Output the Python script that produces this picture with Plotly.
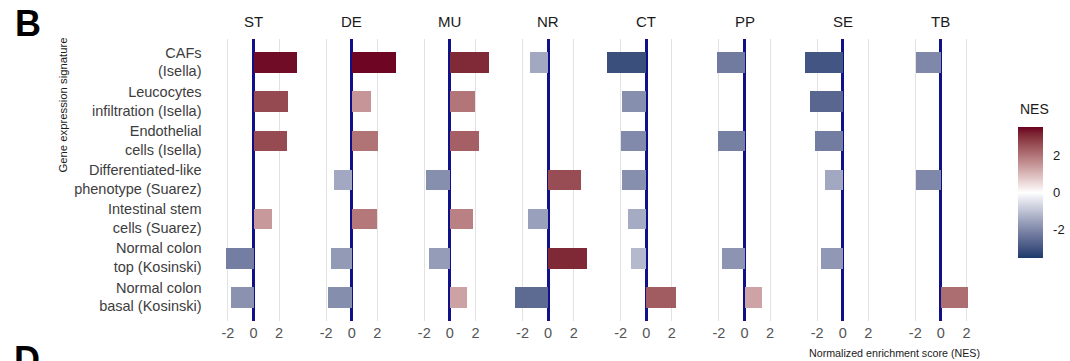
import plotly.graph_objects as go

# Gene expression signatures (rows, top to bottom)
signatures = [
    "CAFs<br>(Isella)",
    "Leucocytes<br>infiltration (Isella)",
    "Endothelial<br>cells (Isella)",
    "Differentiated-like<br>phenotype (Suarez)",
    "Intestinal stem<br>cells (Suarez)",
    "Normal colon<br>top (Kosinski)",
    "Normal colon<br>basal (Kosinski)",
]

# Facets (columns)
groups = ["ST", "DE", "MU", "NR", "CT", "PP", "SE", "TB"]

# NES per facet, one value per signature (None = not shown)
nes_st = [3.38, 2.62, 2.60, None, 1.43, -2.18, -1.82]
nes_de = [3.45, 1.49, 2.00, -1.43, 1.92, -1.68, -1.89]
nes_mu = [3.06, 1.97, 2.29, -1.87, 1.79, -1.64, 1.30]
nes_nr = [-1.44, None, None, 2.56, -1.57, 3.08, -2.54]
nes_ct = [-3.08, -1.88, -1.96, -1.88, -1.39, -1.15, 2.35]
nes_pp = [-2.22, None, -2.14, None, None, -1.78, 1.29]
nes_se = [-2.95, -2.61, -2.19, -1.44, None, -1.71, None]
nes_tb = [-1.99, None, None, -1.99, None, None, 2.07]

nes_by_group = [nes_st, nes_de, nes_mu, nes_nr, nes_ct, nes_pp, nes_se, nes_tb]

x_tickvals = [-2, 0, 2]
x_ticktext = ["-2", "0", "2"]
cbar_tickvals = [-2, 0, 2]
cbar_ticktext = ["-2", "0", "2"]


# ---- diverging colour scale (low / white / high, blended in Lab space) ----
def _hex_to_rgb(h):
    h = h.lstrip("#")
    return [int(h[i:i + 2], 16) / 255 for i in (0, 2, 4)]


def _to_lin(c):
    return c / 12.92 if c <= 0.04045 else ((c + 0.055) / 1.055) ** 2.4


def _from_lin(c):
    v = 12.92 * c if c <= 0.0031308 else 1.055 * c ** (1 / 2.4) - 0.055
    return min(max(v, 0), 1)


def _rgb_to_lab(rgb):
    r, g, b = [_to_lin(c) for c in rgb]
    x = (0.4124 * r + 0.3576 * g + 0.1805 * b) / 0.95047
    y = 0.2126 * r + 0.7152 * g + 0.0722 * b
    z = (0.0193 * r + 0.1192 * g + 0.9505 * b) / 1.08883

    def f(t):
        return t ** (1 / 3) if t > 0.008856 else 7.787 * t + 16 / 116

    fx, fy, fz = f(x), f(y), f(z)
    return [116 * fy - 16, 500 * (fx - fy), 200 * (fy - fz)]


def _lab_to_rgb(lab):
    L, a, bb = lab
    fy = (L + 16) / 116
    fx = fy + a / 500
    fz = fy - bb / 200

    def finv(t):
        return t ** 3 if t ** 3 > 0.008856 else (t - 16 / 116) / 7.787

    x, y, z = finv(fx) * 0.95047, finv(fy), finv(fz) * 1.08883
    r = 3.2406 * x - 1.5372 * y - 0.4986 * z
    g = -0.9689 * x + 1.8758 * y + 0.0415 * z
    b = 0.0557 * x - 0.2040 * y + 1.0570 * z
    return "rgb(%d,%d,%d)" % tuple(round(_from_lin(c) * 255) for c in (r, g, b))


def diverging_scale(low, mid, high, n=10):
    lo, mi, hi = (_rgb_to_lab(_hex_to_rgb(c)) for c in (low, mid, high))
    stops = []
    for i in range(n + 1):
        t = i / n
        lab = [lo[k] + (mi[k] - lo[k]) * t for k in range(3)]
        stops.append([0.5 * t, _lab_to_rgb(lab)])
    for i in range(1, n + 1):
        t = i / n
        lab = [mi[k] + (hi[k] - mi[k]) * t for k in range(3)]
        stops.append([0.5 + 0.5 * t, _lab_to_rgb(lab)])
    return stops


colorscale = diverging_scale("#1B3A6C", "#FFFFFF", "#6B0020")

# ---- layout geometry (pixels) ----
W, H = 1070, 361
zero0, pitch, px_per_unit = 253.5, 98.2, 12.8
x_half = 3.75
panel_top, panel_bottom = 38.5, 320.5

FONT = "Liberation Sans, Arial, Helvetica, sans-serif"
TXT = "#3d3d3d"

fig = go.Figure()
layout_axes = {}
annotations = []

for i, (grp, vals) in enumerate(zip(groups, nes_by_group)):
    z = zero0 + pitch * i
    left = (z - x_half * px_per_unit) / W
    right = (z + x_half * px_per_unit) / W
    ax = "x" if i == 0 else "x%d" % (i + 1)
    ys = [s for s, v in zip(signatures, vals) if v is not None]
    xs = [v for v in vals if v is not None]
    fig.add_trace(go.Bar(
        x=xs, y=ys, orientation="h", xaxis=ax, yaxis="y",
        width=0.52,
        marker=dict(color=xs, coloraxis="coloraxis", line=dict(width=0)),
        showlegend=False,
        hovertemplate=grp + "<br>%{y}<br>NES=%{x:.2f}<extra></extra>",
    ))
    layout_axes["xaxis" if i == 0 else "xaxis%d" % (i + 1)] = dict(
        domain=[left, right], anchor="y", range=[-x_half, x_half],
        tickvals=x_tickvals, ticktext=x_ticktext, ticks="",
        showgrid=True, gridcolor="#e2e2e2", gridwidth=1,
        zeroline=True, zerolinecolor="#10108a", zerolinewidth=2.5,
        showline=False, fixedrange=True,
        tickfont=dict(family=FONT, size=14.5, color="#555555"),
        ticklabelstandoff=2,
    )
    annotations.append(dict(
        text=grp, xref="paper", yref="paper",
        x=z / W, y=1 - 22 / H, xanchor="center", yanchor="middle",
        showarrow=False, font=dict(family=FONT, size=15, color="#1a1a1a"),
    ))

# panel letters, axis titles, colour bar title
annotations += [
    dict(text="<b>B</b>", xref="paper", yref="paper", x=28 / W, y=1 - 23 / H,
         xanchor="center", yanchor="middle", showarrow=False,
         font=dict(family=FONT, size=36, color="#000000")),
    dict(text="<b>D</b>", xref="paper", yref="paper", x=27 / W, y=1 - 359 / H,
         xanchor="center", yanchor="middle", showarrow=False,
         font=dict(family=FONT, size=36, color="#000000")),
    dict(text="Gene expression signature", xref="paper", yref="paper",
         x=62 / W, y=1 - 105.5 / H, xanchor="center", yanchor="middle",
         textangle=-90, showarrow=False,
         font=dict(family=FONT, size=11.3, color="#1a1a1a")),
    dict(text="Normalized enrichment score (NES)", xref="paper", yref="paper",
         x=894 / W, y=1 - 353 / H, xanchor="center", yanchor="middle",
         showarrow=False, font=dict(family=FONT, size=10.7, color="#1a1a1a")),
    dict(text="NES", xref="paper", yref="paper",
         x=1034 / W, y=1 - 109 / H, xanchor="center", yanchor="middle",
         showarrow=False, font=dict(family=FONT, size=14, color="#1a1a1a")),
]

fig.update_layout(
    width=W, height=H,
    margin=dict(l=0, r=0, t=0, b=0),
    paper_bgcolor="white", plot_bgcolor="white",
    bargap=0,
    yaxis=dict(
        domain=[1 - panel_bottom / H, 1 - panel_top / H], anchor="x",
        type="category", categoryorder="array", categoryarray=signatures,
        range=[6.6, -0.6], showgrid=False, zeroline=False, ticks="",
        ticklabelstandoff=3, fixedrange=True,
        tickfont=dict(family=FONT, size=14.5, color=TXT),
    ),
    coloraxis=dict(
        colorscale=colorscale, cmin=-3.5, cmax=3.5, cmid=0,
        colorbar=dict(
            x=1018 / W, xanchor="left", thickness=25,
            y=1 - 192.5 / H, yanchor="middle", len=131, lenmode="pixels",
            tickvals=cbar_tickvals, ticktext=cbar_ticktext,
            ticks="outside", ticklen=8, tickcolor="rgba(0,0,0,0)",
            tickfont=dict(family=FONT, size=13, color="#1a1a1a"),
            outlinewidth=0, xpad=0, ypad=0,
        ),
    ),
    annotations=annotations,
    **layout_axes,
)

fig.write_html("out.html")
